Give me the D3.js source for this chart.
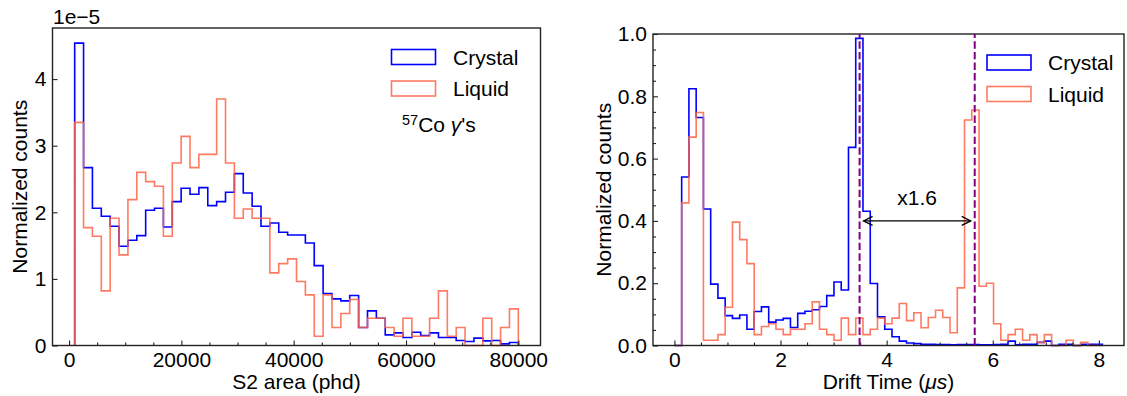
<!DOCTYPE html>
<html><head><meta charset="utf-8">
<script src="https://cdn.jsdelivr.net/npm/d3@7"></script>
<style>
body{margin:0;background:#fff}
svg{display:block}
text{font-family:"Liberation Sans",Arial,Helvetica,sans-serif;fill:#000}
</style>
</head><body>
<svg id="c" width="1127" height="396"></svg>
<script>
// ---------- data ----------
const seriesNames = ["Crystal", "Liquid"];
const seriesColors = ["#0000ff", "#ff6347"];

// Left panel: S2 area histograms (x 1e-5), 50 bins from 1000 to 80000
const s2BinStart = 1000, s2BinWidth = 1580;
const s2Crystal = [4.54, 2.67, 2.06, 1.94, 1.79, 1.49, 1.58, 1.65, 2.03, 2.06,
  1.78, 2.16, 2.36, 2.27, 2.37, 2.10, 2.16, 2.30, 2.58, 2.29,
  2.09, 1.79, 1.84, 1.70, 1.66, 1.66, 1.54, 1.20, 0.78, 0.70,
  0.67, 0.75, 0.27, 0.52, 0.41, 0.16, 0.19, 0.12, 0.20, 0.15,
  0.19, 0.12, 0.12, 0.075, 0.06, 0.11, 0.07, 0.075, 0.025, 0.045];
const s2Liquid = [3.35, 1.77, 1.64, 0.82, 1.91, 1.36, 2.19, 2.60, 2.46, 2.39,
  1.64, 2.74, 3.14, 2.67, 2.87, 2.87, 3.70, 2.74, 1.91, 2.05,
  1.91, 1.91, 1.09, 1.23, 1.30, 0.96, 0.76, 0.14, 0.76, 0.27,
  0.48, 0.69, 0.27, 0.41, 0.41, 0.27, 0.14, 0.41, 0.14, 0.14,
  0.41, 0.82, 0.14, 0.27, 0, 0, 0.41, 0, 0.27, 0.55];
const s2XTicks = [0, 20000, 40000, 60000, 80000];
const s2XMinor = [5000, 10000, 15000, 25000, 30000, 35000, 45000, 50000, 55000, 65000, 70000, 75000];
const s2YTicks = [0, 1, 2, 3, 4];

// Right panel: drift time histograms, 59 bins from 0 us
const dtBinStart = 0, dtBinWidth = 0.1367;
const dtCrystal = [0, 0.541, 0.824, 0.732, 0.438, 0.197, 0.152, 0.096, 0.087, 0.098,
  0.052, 0.109, 0.124, 0.075, 0.082, 0.087, 0.058, 0.103, 0.110, 0.115,
  0.125, 0.160, 0.204, 0.178, 0.636, 0.986, 0.431, 0.199, 0.092, 0.052,
  0.028, 0.014, 0.008, 0.006, 0.004, 0.004, 0.003, 0.003, 0.002, 0.003,
  0.003, 0.003, 0.002, 0.002, 0.003, 0.004, 0.014, 0.002, 0.004, 0.004,
  0.010, 0.014, 0, 0.004, 0.004, 0, 0.004, 0.004, 0.004];
const dtLiquid = [0, 0.458, 0.669, 0.748, 0.017, 0.017, 0.035, 0.123, 0.396, 0.340,
  0.263, 0.035, 0.061, 0.070, 0.052, 0.035, 0.052, 0.052, 0.070, 0.140,
  0.052, 0.035, 0.017, 0.088, 0.035, 0.088, 0.035, 0.052, 0.088, 0.070,
  0.088, 0.135, 0.080, 0.105, 0.057, 0.090, 0.113, 0.090, 0.041, 0.185,
  0.724, 0.756, 0.190, 0.200, 0.070, 0.017, 0.035, 0.052, 0.017, 0.035,
  0.010, 0.035, 0, 0, 0.017, 0, 0.010, 0, 0];
const dtXTicks = [0, 2, 4, 6, 8];
const dtXMinor = [0.5, 1, 1.5, 2.5, 3, 3.5, 4.5, 5, 5.5, 6.5, 7, 7.5];
const dtYTicks = [0, 0.2, 0.4, 0.6, 0.8, 1.0];
const dtYMinor = [0.05, 0.1, 0.15, 0.25, 0.3, 0.35, 0.45, 0.5, 0.55, 0.65, 0.7, 0.75, 0.85, 0.9, 0.95];
const peakLines = [3.49, 5.66];
const arrowY = 0.40;
const ratioLabel = "x1.6";

// ---------- drawing ----------
const svg = d3.select("#c");
const FS = 21;

function stepPoints(vals, start, w) {
  const pts = [[start, 0]];
  vals.forEach((v, i) => { pts.push([start + i * w, v]); pts.push([start + (i + 1) * w, v]); });
  pts.push([start + vals.length * w, 0]);
  return pts;
}

function panel(opt) {
  const g = svg.append("g");
  const x = d3.scaleLinear().domain(opt.xlim).range([opt.left, opt.right]);
  const y = d3.scaleLinear().domain(opt.ylim).range([opt.bottom, opt.top]);

  // histograms
  const line = d3.line().x(d => x(d[0])).y(d => y(d[1]));
  opt.series.forEach((vals, i) => {
    g.append("path").attr("d", line(stepPoints(vals, opt.binStart, opt.binWidth)))
      .attr("fill", "none").attr("stroke", seriesColors[i])
      .attr("stroke-width", 1.6).attr("stroke-opacity", i === 1 ? 0.85 : 1)
      .attr("stroke-linejoin", "miter");
  });

  // axes
  const xa = g.append("g").attr("transform", `translate(0,${opt.bottom})`)
    .call(d3.axisBottom(x).tickValues(opt.xTicks).tickSize(-5).tickPadding(7).tickFormat(opt.xFmt));
  const xm = g.append("g").attr("transform", `translate(0,${opt.bottom})`)
    .call(d3.axisBottom(x).tickValues(opt.xMinor).tickSize(-3).tickFormat(""));
  const ya = g.append("g").attr("transform", `translate(${opt.left},0)`)
    .call(d3.axisLeft(y).tickValues(opt.yTicks).tickSize(-5).tickPadding(6).tickFormat(opt.yFmt));
  const axes = [xa, xm, ya];
  if (opt.yMinor) {
    axes.push(g.append("g").attr("transform", `translate(${opt.left},0)`)
      .call(d3.axisLeft(y).tickValues(opt.yMinor).tickSize(-3).tickFormat("")));
  }
  axes.forEach(a => {
    a.select(".domain").remove();
    a.selectAll("line").attr("stroke", "#222").attr("stroke-width", 1.1);
    a.selectAll("text").attr("font-size", FS).attr("font-family", "Liberation Sans, Arial, sans-serif").attr("fill", "#000");
  });

  // spines
  g.append("rect").attr("x", opt.left).attr("y", opt.top)
    .attr("width", opt.right - opt.left).attr("height", opt.bottom - opt.top)
    .attr("fill", "none").attr("stroke", "#222").attr("stroke-width", 1.4);

  // labels
  g.append("text").attr("x", (opt.left + opt.right) / 2).attr("y", 389)
    .attr("text-anchor", "middle").attr("font-size", FS).call(opt.xLabel);
  g.append("text").attr("transform", `translate(${opt.yLabelX},${(opt.top + opt.bottom) / 2}) rotate(-90)`)
    .attr("text-anchor", "middle").attr("font-size", FS).text("Normalized counts");

  return { g, x, y };
}

// Left panel
const L = panel({
  left: 52.5, right: 540.5, top: 28, bottom: 345.5,
  xlim: [-2950, 83950], ylim: [0, 4.767],
  series: [s2Crystal, s2Liquid], binStart: s2BinStart, binWidth: s2BinWidth,
  xTicks: s2XTicks, xMinor: s2XMinor, yTicks: s2YTicks,
  xFmt: d3.format("d"), yFmt: d3.format("d"),
  xLabel: t => t.text("S2 area (phd)"), yLabelX: 27
});
L.g.append("text").attr("x", 53).attr("y", 24).attr("font-size", FS).text("1e\u22125");

// Right panel
const R = panel({
  left: 653, right: 1124, top: 34, bottom: 345.5,
  xlim: [-0.4035, 8.4735], ylim: [0, 1.0],
  series: [dtCrystal, dtLiquid], binStart: dtBinStart, binWidth: dtBinWidth,
  xTicks: dtXTicks, xMinor: dtXMinor, yTicks: dtYTicks, yMinor: dtYMinor,
  xFmt: d3.format("d"), yFmt: d3.format(".1f"),
  xLabel: t => { t.append("tspan").text("Drift Time ("); t.append("tspan").attr("font-style", "italic").text("\u03bcs"); t.append("tspan").text(")"); },
  yLabelX: 611
});

// dashed peak lines
peakLines.forEach(v => {
  R.g.append("line").attr("x1", R.x(v)).attr("x2", R.x(v)).attr("y1", R.y(0)).attr("y2", R.y(1))
    .attr("stroke", "#800080").attr("stroke-width", 2).attr("stroke-dasharray", "7.4,3.2");
});

// double arrow
{
  const x1 = R.x(peakLines[0]) + 4, x2 = R.x(peakLines[1]) - 4, ya = R.y(arrowY);
  const a = R.g.append("g").attr("stroke", "#000").attr("stroke-width", 1.3).attr("fill", "none");
  a.append("line").attr("x1", x1).attr("x2", x2).attr("y1", ya).attr("y2", ya);
  a.append("polyline").attr("points", `${x1 + 9},${ya - 4.5} ${x1},${ya} ${x1 + 9},${ya + 4.5}`);
  a.append("polyline").attr("points", `${x2 - 9},${ya - 4.5} ${x2},${ya} ${x2 - 9},${ya + 4.5}`);
  R.g.append("text").attr("x", (x1 + x2) / 2).attr("y", R.y(0.45)).attr("text-anchor", "middle")
    .attr("font-size", FS).text(ratioLabel);
}

// legends
function legend(g, bx, by, tx, gap) {
  seriesNames.forEach((name, i) => {
    g.append("rect").attr("x", bx).attr("y", by + i * gap).attr("width", 44).attr("height", 15)
      .attr("fill", "none").attr("stroke", seriesColors[i]).attr("stroke-width", 1.6)
      .attr("stroke-opacity", i === 1 ? 0.85 : 1);
    g.append("text").attr("x", tx).attr("y", by + i * gap + 15).attr("font-size", FS).text(name);
  });
}
legend(L.g, 391.5, 49.5, 453, 31.5);
legend(R.g, 987, 55, 1048, 31.5);

// 57Co gamma's annotation
{
  const t = L.g.append("text").attr("x", 402).attr("y", 132).attr("font-size", FS);
  t.append("tspan").attr("font-size", 14.5).attr("dy", -7).text("57");
  t.append("tspan").attr("dy", 7).text("Co ");
  t.append("tspan").attr("font-style", "italic").text("\u03b3");
  t.append("tspan").text("'s");
}
</script>
</body></html>
